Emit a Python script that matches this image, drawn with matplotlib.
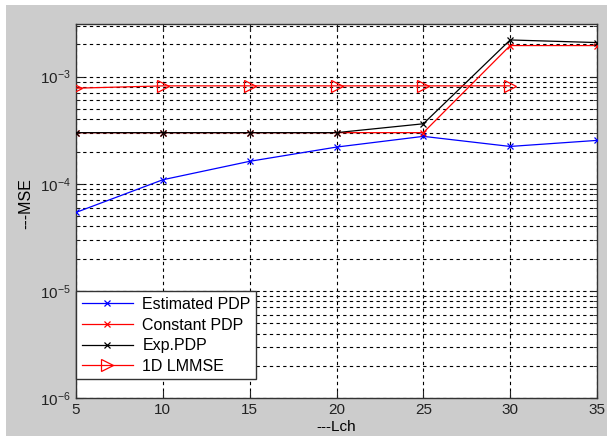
import matplotlib
matplotlib.use("Agg")
import matplotlib.pyplot as plt
from matplotlib.ticker import LogLocator, FixedLocator, NullFormatter

plt.rcParams['font.family'] = ['Liberation Sans', 'DejaVu Sans']
plt.rcParams['mathtext.fontset'] = 'custom'
plt.rcParams['mathtext.rm'] = 'Liberation Sans'

lch = [5, 10, 15, 20, 25, 30, 35]
est_pdp = [5.4e-5, 1.09e-4, 1.62e-4, 2.2e-4, 2.77e-4, 2.23e-4, 2.54e-4]
const_pdp = [3.0e-4, 3.0e-4, 3.0e-4, 3.0e-4, 3.0e-4, 1.95e-3, 1.95e-3]
exp_pdp = [3.0e-4, 3.0e-4, 3.0e-4, 3.0e-4, 3.63e-4, 2.2e-3, 2.08e-3]
lch_lmmse = [5, 10, 15, 20, 25, 30]
lmmse_1d = [7.8e-4, 8.2e-4, 8.2e-4, 8.2e-4, 8.2e-4, 8.2e-4]

W, H = 607, 436
fig = plt.figure(figsize=(W/100, H/100), dpi=100)
fig.patch.set_facecolor('white')
bg = plt.Rectangle((6/W, 0), 1 - 6/W, 1 - 5/H, transform=fig.transFigure,
                   facecolor='#cccccc', edgecolor='none', zorder=-10)
fig.add_artist(bg)

ax = fig.add_axes([76/W, 1 - 398/H, (597-76)/W, (398-24)/H])
ax.set_facecolor('white')

ax.semilogy(lch, est_pdp, color='blue', marker='x', ms=5, lw=0.9, mew=0.9,
            label='Estimated PDP', zorder=3)
ax.semilogy(lch, const_pdp, color='red', marker='x', ms=5, lw=0.9, mew=0.9,
            label='Constant PDP', zorder=3)
ax.semilogy(lch, exp_pdp, color='black', marker='x', ms=5, lw=0.9, mew=0.9,
            label='Exp.PDP', zorder=3)
ax.semilogy(lch_lmmse, lmmse_1d, color='red', marker='>', ms=9, lw=0.9, mew=0.9,
            mfc='none', label='1D LMMSE', zorder=3)

ax.set_xlim(5, 35)
ax.set_ylim(1e-6, 3.1e-3)
ax.xaxis.set_major_locator(FixedLocator(lch))
ax.yaxis.set_major_locator(LogLocator(base=10, numticks=10))
ax.yaxis.set_minor_locator(LogLocator(base=10, subs=range(2, 10), numticks=20))
ax.yaxis.set_minor_formatter(NullFormatter())

grid_ls = (0, (3, 3))
ax.grid(True, which='major', axis='both', color='black', lw=0.8, linestyle=grid_ls)
ax.grid(True, which='minor', axis='y', color='black', lw=0.8, linestyle=grid_ls)

ax.tick_params(which='both', direction='in', top=True, right=True, labelsize=11,
               colors='#222222')
ax.tick_params(which='major', length=5)
ax.tick_params(which='minor', length=3)
for s in ax.spines.values():
    s.set_color('#333333')
    s.set_linewidth(1.0)

ax.set_xlabel('---Lch', fontsize=11, labelpad=2)
ax.set_ylabel('---MSE', fontsize=11.5, labelpad=4)
ax.yaxis.set_label_coords(-0.083, 0.52)

leg = ax.legend(loc='lower left', bbox_to_anchor=(0.0, 0.05), fontsize=11.5,
                fancybox=False, framealpha=1, edgecolor='#333333',
                handlelength=3.2, borderpad=0.35, labelspacing=0.35,
                handletextpad=0.6, borderaxespad=0)
leg.get_frame().set_linewidth(1.0)

fig.savefig('out.png', dpi=100, facecolor=fig.get_facecolor())
